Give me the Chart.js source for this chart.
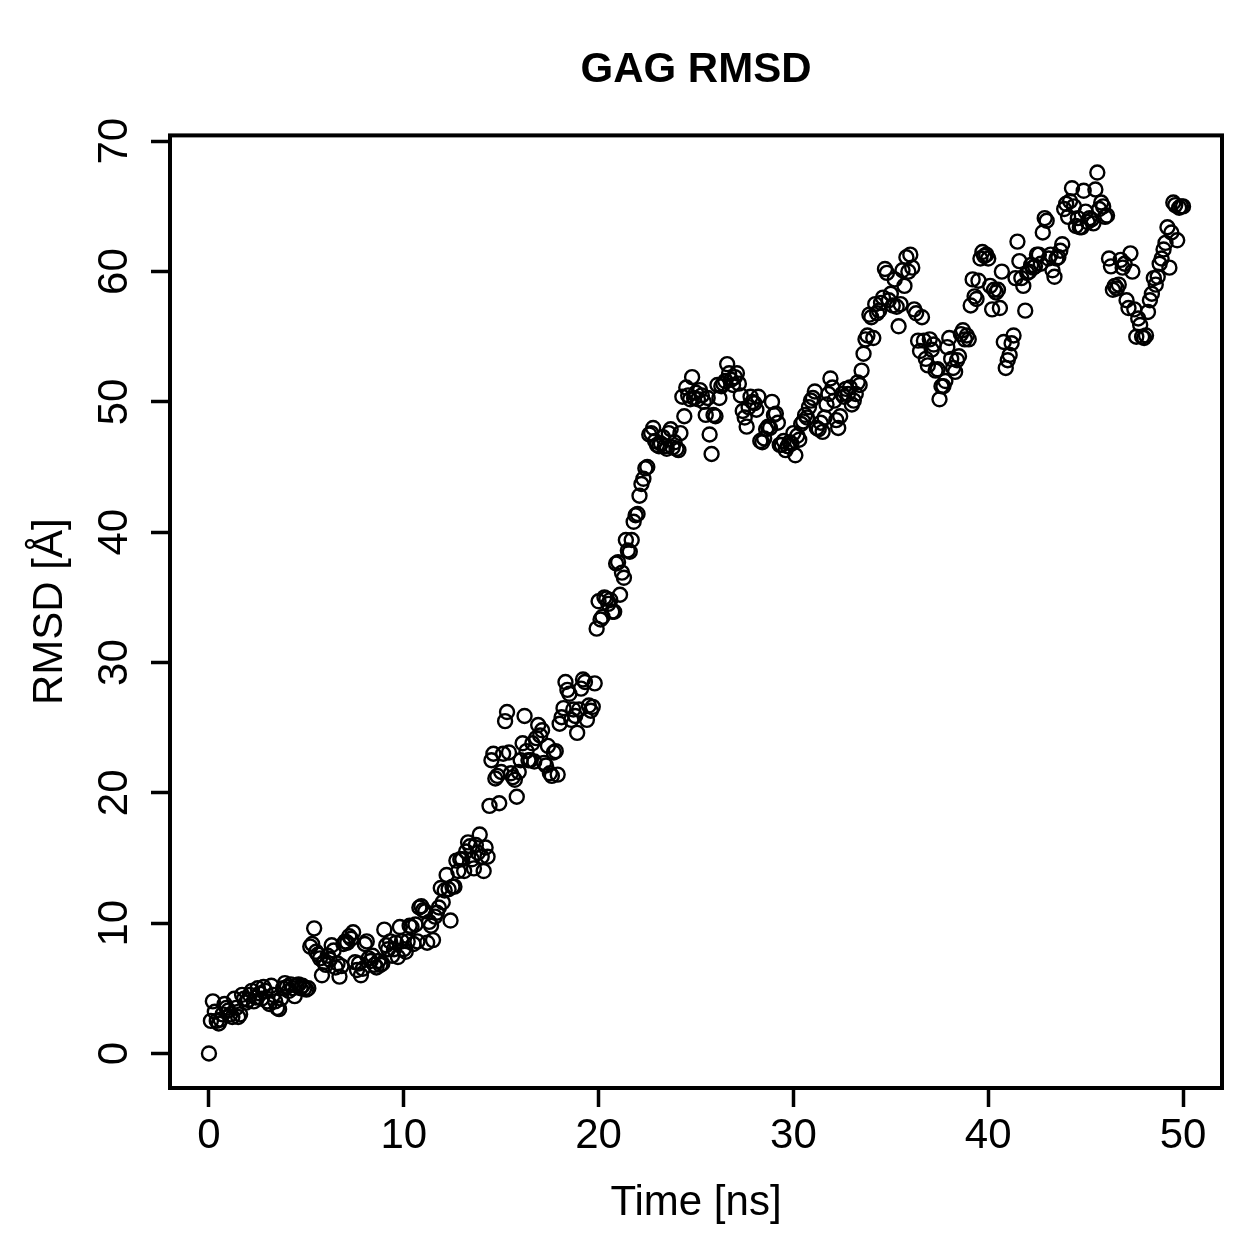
<!DOCTYPE html>
<html>
<head>
<meta charset="utf-8">
<title>GAG RMSD</title>
<script src="https://cdn.jsdelivr.net/npm/chart.js@4.4.1/dist/chart.umd.min.js"></script>
<style>
    html, body { margin: 0; padding: 0; background: #ffffff; }
    canvas { display: block; }
</style>
</head>
<body>
<canvas id="rmsdChart" width="1259" height="1259"></canvas>
<script>
/* =========================
   DATA (RMSD per 0.1 ns frame)
========================= */

const rmsd00to10 = [
    0, 2.5, 4.0, 3.2, 2.5, 2.3, 2.6, 3.0, 3.8, 3.5,
    3.3, 3.0, 2.8, 4.2, 3.5, 2.8, 3.0, 4.5, 4.2, 3.9,
    4.1, 4.5, 4.8, 4.0, 4.3, 5.0, 4.6, 4.2, 5.1, 4.8,
    4.0, 3.8, 5.2, 4.5, 4.0, 3.5, 3.4, 4.2, 5.0, 5.4,
    5.1, 4.8, 5.3, 5.0, 4.4, 5.2, 5.3, 5.0, 5.2, 5.0,
    4.9, 5.0, 8.2, 8.4, 9.6, 7.8, 7.6, 7.3, 6.0, 7.0,
    6.8, 7.5, 7.2, 8.3, 7.9, 6.6, 6.9, 5.9, 6.7, 8.4,
    8.6, 8.5, 9.0, 8.8, 9.3, 7.0, 6.4, 6.9, 6.0, 6.5,
    8.4, 8.6, 7.3, 7.1, 7.5, 6.8, 6.6, 7.1, 6.8, 6.9,
    9.5, 8.3, 8.0, 8.6, 7.5, 8.0, 8.5, 7.4, 9.7, 8.6
];

const rmsd10to20 = [
    8.0, 7.8, 8.6, 9.8, 9.7, 8.4, 9.9, 8.6, 11.2, 11.3,
    11.0, 10.9, 8.5, 10.1, 9.8, 8.7, 10.5, 10.8, 11.2, 12.7,
    11.6, 12.5, 13.7, 12.6, 10.2, 12.8, 12.8, 14.8, 14.0, 14.9,
    14.9, 14.0, 15.5, 16.2, 15.9, 14.9, 14.2, 16.0, 15.4, 16.8,
    15.1, 14.0, 15.8, 15.1, 19.0, 22.5, 23.0, 21.1, 21.3, 19.2,
    21.6, 23.0, 25.5, 26.2, 23.1, 21.5, 21.2, 21.0, 19.7, 21.6,
    22.5, 23.8, 25.9, 23.2, 22.5, 22.5, 23.8, 22.4, 24.2, 25.2,
    24.4, 24.8, 22.3, 22.1, 23.6, 21.5, 21.3, 23.1, 23.2, 21.4,
    25.3, 25.8, 26.5, 28.5, 27.9, 27.6, 25.6, 26.4, 25.9, 24.6,
    26.4, 28.0, 28.7, 28.5, 25.6, 26.7, 26.3, 26.6, 28.4, 32.6
];

const rmsd20to30 = [
    34.7, 33.3, 33.5, 35.0, 34.9, 34.5, 34.8, 33.9, 33.9, 37.6,
    37.7, 35.2, 36.9, 36.5, 39.4, 38.6, 38.5, 39.4, 40.8, 41.3,
    41.4, 42.8, 43.7, 44.1, 44.9, 45.0, 47.5, 47.6, 48.0, 47.0,
    46.7, 46.6, 46.8, 47.3, 46.6, 46.4, 47.6, 47.9, 46.5, 46.9,
    46.4, 46.3, 47.6, 50.4, 48.9, 51.1, 50.5, 50.2, 51.9, 50.3,
    50.7, 50.2, 50.9, 50.5, 50.0, 49.0, 50.3, 47.5, 46.0, 49.0,
    48.9, 51.3, 50.3, 51.2, 51.4, 51.6, 52.9, 52.2, 51.7, 51.3,
    51.9, 52.2, 51.4, 50.5, 49.3, 48.8, 48.1, 49.6, 50.4, 50.0,
    49.9, 49.4, 50.4, 47.0, 46.9, 47.2, 47.9, 48.1, 48.0, 50.0,
    49.0, 49.1, 48.4, 46.7, 46.7, 47.0, 46.3, 46.6, 46.9, 46.8
];

const rmsd30to40 = [
    47.6, 45.9, 47.4, 47.1, 48.3, 48.5, 49.0, 48.8, 49.6, 50.1,
    50.3, 50.8, 48.0, 47.9, 48.4, 47.7, 48.8, 49.8, 50.6, 51.8,
    51.1, 50.1, 48.6, 48.0, 48.9, 50.6, 50.4, 51.0, 50.6, 51.1,
    49.8, 50.1, 50.6, 51.5, 51.3, 52.4, 53.7, 54.8, 55.1, 56.7,
    56.5, 54.9, 57.5, 56.8, 57.0, 57.6, 58.0, 60.2, 59.9, 57.8,
    58.3, 57.4, 59.4, 57.3, 55.8, 57.5, 60.1, 58.9, 61.1, 60.0,
    61.3, 60.3, 57.1, 56.8, 54.7, 53.9, 56.5, 54.7, 53.3, 52.8,
    54.8, 54.0, 54.4, 52.4, 52.5, 50.2, 51.2, 51.2, 51.6, 54.2,
    54.9, 53.3, 52.6, 52.3, 53.2, 53.5, 55.2, 55.5, 54.8, 55.1,
    54.8, 57.4, 59.4, 58.1, 57.9, 59.3, 61.0, 61.5, 61.2, 61.3
];

const rmsd40to50 = [
    61.0, 58.9, 57.1, 58.6, 58.4, 58.6, 57.2, 60.0, 54.6, 52.6,
    53.2, 53.6, 54.5, 55.1, 59.5, 62.3, 60.8, 59.5, 58.9, 57.0,
    59.9, 60.0, 60.5, 60.3, 60.4, 61.3, 61.3, 60.6, 63.0, 64.1,
    63.9, 61.0, 61.3, 60.1, 59.6, 61.0, 61.1, 61.6, 62.1, 64.8,
    65.2, 64.2, 65.4, 66.4, 65.0, 63.5, 64.1, 63.4, 63.4, 66.2,
    64.6, 63.8, 64.1, 64.0, 63.7, 66.3, 67.6, 64.8, 65.3, 65.0,
    64.2, 64.3, 61.0, 60.4, 58.6, 58.9, 58.7, 59.0, 60.9, 60.3,
    60.6, 57.8, 57.2, 61.4, 60.0, 57.1, 55.0, 56.4, 55.9, 55.0,
    54.9, 55.1, 56.9, 57.8, 58.3, 59.5, 59.0, 59.6, 60.6, 61.0,
    61.7, 62.2, 63.4, 60.3, 63.0, 65.3, 65.1, 62.4, 64.9, 65.0,
    65.0
];

const frameStep = 0.1;   // ns between frames

const xTicks = [0, 10, 20, 30, 40, 50];
const yTicks = [0, 10, 20, 30, 40, 50, 60, 70];

const rmsdAll = rmsd00to10.concat(rmsd10to20, rmsd20to30, rmsd30to40, rmsd40to50);

const points = rmsdAll.map(function(v, i){
    return { x: Math.round(i * frameStep * 10) / 10, y: v };
});

/* =========================
   PLOT BOX (R style)
========================= */

const boxPlugin = {
    id: 'rBox',
    afterDraw: function(chart){
        const a = chart.chartArea;
        const ctx = chart.ctx;
        ctx.save();
        ctx.strokeStyle = '#000000';
        ctx.lineWidth = 4;
        ctx.strokeRect(a.left, a.top, a.right - a.left, a.bottom - a.top);
        ctx.restore();
    }
};

/* =========================
   CHART
========================= */

const fontFamily = '"Liberation Sans", Arial, Helvetica, sans-serif';

new Chart(document.getElementById('rmsdChart'), {
    type: 'scatter',

    data: {
        datasets: [{
            label: 'RMSD',
            data: points,

            pointStyle: 'circle',
            pointRadius: 7,
            pointBorderWidth: 2.4,
            pointBorderColor: '#000000',
            pointBackgroundColor: 'rgba(0,0,0,0)',
            showLine: false
        }]
    },

    options: {
        responsive: false,
        animation: false,
        devicePixelRatio: 1,

        layout: {
            padding: { left: 0, right: 37, top: 0, bottom: 0 }
        },

        plugins: {
            legend: { display: false },
            tooltip: { enabled: false },

            title: {
                display: true,
                fullSize: false,
                text: 'GAG RMSD',
                color: '#000000',
                font: { family: fontFamily, size: 42, weight: 'bold', lineHeight: 1.2 },
                padding: { top: 45, bottom: 40 }
            }
        },

        scales: {

            x: {
                type: 'linear',
                min: -2,
                max: 52,
                afterBuildTicks: function(scale){
                    scale.ticks = xTicks.map(function(v){ return { value: v }; });
                },
                afterFit: function(scale){
                    scale.height = 171;
                },
                border: { display: false },
                grid: {
                    drawOnChartArea: false,
                    drawTicks: true,
                    tickLength: 19,
                    tickWidth: 3.5,
                    tickColor: '#000000'
                },
                ticks: {
                    color: '#000000',
                    padding: 4,
                    maxRotation: 0,
                    font: { family: fontFamily, size: 42 }
                },
                title: {
                    display: true,
                    text: 'Time [ns]',
                    color: '#000000',
                    font: { family: fontFamily, size: 42, lineHeight: 1.2 },
                    padding: { top: 0, bottom: 30 }
                }
            },

            y: {
                type: 'linear',
                min: -2.65,
                max: 70.45,
                afterBuildTicks: function(scale){
                    scale.ticks = yTicks.map(function(v){ return { value: v }; });
                },
                afterFit: function(scale){
                    scale.width = 170;
                },
                border: { display: false },
                grid: {
                    drawOnChartArea: false,
                    drawTicks: true,
                    tickLength: 19,
                    tickWidth: 3.5,
                    tickColor: '#000000'
                },
                ticks: {
                    color: '#000000',
                    padding: 12,
                    minRotation: 90,
                    maxRotation: 90,
                    crossAlign: 'center',
                    font: { family: fontFamily, size: 42 }
                },
                title: {
                    display: true,
                    text: 'RMSD [Å]',
                    color: '#000000',
                    font: { family: fontFamily, size: 42, lineHeight: 1.2 },
                    padding: { top: 25, bottom: 0 }
                }
            }
        }
    },

    plugins: [boxPlugin]
});
</script>
</body>
</html>
